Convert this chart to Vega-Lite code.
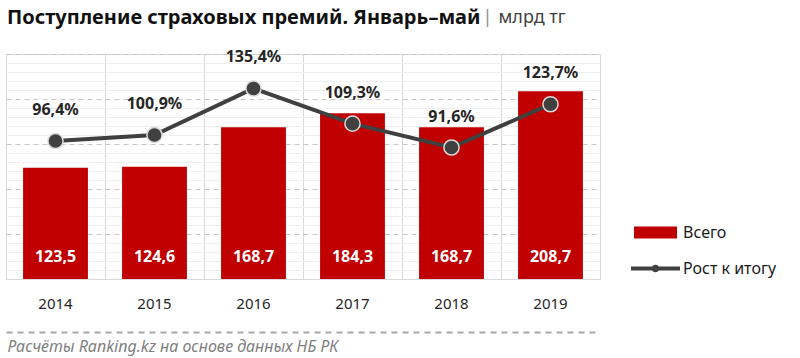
{
  "$schema": "https://vega.github.io/schema/vega-lite/v6.json",
  "width": 594,
  "height": 225,
  "autosize": {"type": "none"},
  "padding": {"left": 6, "top": 54, "right": 200, "bottom": 79},
  "background": "white",
  "config": {
    "locale": {"number": {"decimal": ",", "thousands": " ", "grouping": [3], "currency": ["", ""]}},
    "view": {"stroke": "#d9d9d9"},
    "font": "Noto Sans"
  },
  "title": {
    "text": "Поступление страховых премий. Январь–май",
    "anchor": "start",
    "frame": "group",
    "font": "Noto Sans",
    "fontSize": 20,
    "fontWeight": "bold",
    "color": "#111111",
    "offset": -20,
    "dx": 1
  },
  "data": {
    "values": [
      {"year": "2014", "total": 123.5, "growth": 0.964},
      {"year": "2015", "total": 124.6, "growth": 1.009},
      {"year": "2016", "total": 168.7, "growth": 1.354},
      {"year": "2017", "total": 184.3, "growth": 1.093},
      {"year": "2018", "total": 168.7, "growth": 0.916},
      {"year": "2019", "total": 208.7, "growth": 1.237}
    ]
  },
  "layer": [
    {
      "mark": {"type": "bar", "width": {"band": 0.655}},
      "encoding": {
        "x": {
          "field": "year", "type": "nominal",
          "scale": {"padding": 0},
          "axis": {
            "orient": "bottom", "title": null, "ticks": false,
            "labelAngle": 0, "labelFontSize": 15, "labelColor": "#262626", "labelPadding": 17,
            "labelFont": "Noto Sans",
            "domain": true, "domainColor": "#d9d9d9", "domainWidth": 1,
            "grid": true, "bandPosition": 0, "gridColor": "#d9d9d9", "gridWidth": 1
          }
        },
        "y": {
          "field": "total", "type": "quantitative",
          "scale": {"domain": [0, 250], "nice": false},
          "axis": {
            "orient": "left", "labels": false, "ticks": false, "domain": false,
            "values": [50, 100, 150, 200, 250],
            "grid": true, "gridDash": [5, 4], "gridColor": "#c6c6c6", "gridWidth": 1,
            "title": "|", "titleAngle": 0, "titleX": 476, "titleY": -37,
            "titleAlign": "left", "titleBaseline": "middle",
            "titleColor": "#8c8c8c", "titleFontWeight": "normal", "titleFontSize": 18, "titleFont": "Noto Sans"
          }
        },
        "color": {
          "datum": "Всего",
          "scale": {"domain": ["Всего", "Рост к итогу"], "range": ["#c00000", "#404040"]},
          "legend": {
            "orient": "none", "legendX": 639.5, "legendY": 168.5,
            "title": null, "padding": 0,
            "symbolSize": 400, "labelOffset": 17.5, "rowPadding": 18,
            "labelFontSize": 16, "labelColor": "#1a1a1a", "labelFont": "Noto Sans", "labelBaseline": "middle",
            "encode": {
              "symbols": {
                "update": {
                  "shape": {"signal": "datum.value === 'Всего' ? 'M-2.15,-0.6H2.15V0.6H-2.15Z' : 'M-2.45,-0.2H2.45V0.2H-2.45Z M0.38,0A0.38,0.38 0 1,1 -0.38,0A0.38,0.38 0 1,1 0.38,0Z'"},
                  "fill": {"signal": "datum.value === 'Всего' ? '#c00000' : '#404040'"},
                  "stroke": {"value": "transparent"},
                  "strokeWidth": {"value": 0},
                  "opacity": {"value": 1},
                  "fillOpacity": {"value": 1}
                }
              }
            }
          }
        }
      }
    },
    {
      "mark": {"type": "text", "color": "white", "fontWeight": "bold", "fontSize": 16, "dy": -22, "baseline": "middle", "font": "Noto Sans"},
      "encoding": {
        "x": {"field": "year", "type": "nominal", "axis": null},
        "y": {
          "datum": 0, "type": "quantitative",
          "scale": {"domain": [0, 250], "nice": false},
          "axis": {
            "orient": "right", "labels": false, "ticks": false, "domain": false,
            "values": [10, 20, 30, 40, 60, 70, 80, 90, 110, 120, 130, 140, 160, 170, 180, 190, 210, 220, 230, 240],
            "grid": true, "gridColor": "#efefef", "gridWidth": 1,
            "title": "млрд тг", "titleAngle": 0, "titleX": -102, "titleY": -37,
            "titleAlign": "left", "titleBaseline": "middle",
            "titleColor": "#404040", "titleFontWeight": "normal", "titleFontSize": 18, "titleFont": "Noto Sans"
          }
        },
        "text": {"field": "total", "type": "quantitative", "format": ".1f"}
      }
    },
    {
      "encoding": {
        "x": {
          "field": "year", "type": "nominal",
          "axis": {
            "orient": "bottom", "offset": 53, "labels": false, "ticks": false, "grid": false,
            "domain": true, "domainDash": [6, 5], "domainColor": "#a6a6a6", "domainWidth": 2,
            "title": "Расчёты Ranking.kz на основе данных НБ РК",
            "titleFont": "Noto Sans", "titleFontStyle": "italic", "titleFontWeight": "normal",
            "titleColor": "#7f7f7f", "titleFontSize": 16,
            "titleAnchor": "start", "titleAlign": "left", "titleX": 1, "titleY": 14, "titleBaseline": "middle",
            "encode": {"domain": {"update": {"x": {"value": -1}, "x2": {"value": 789}}}}
          }
        },
        "y": {
          "field": "growth", "type": "quantitative",
          "scale": {"domain": [-0.06, 1.61], "nice": false, "zero": false},
          "axis": null
        }
      },
      "layer": [
        {
          "mark": {"type": "line", "strokeWidth": 4},
          "encoding": {"color": {"datum": "Рост к итогу"}}
        },
        {
          "mark": {"type": "point", "filled": true, "size": 230, "fill": "#404040", "stroke": "#d9d9d9", "strokeWidth": 1.5, "opacity": 1}
        },
        {
          "mark": {"type": "text", "dy": -31, "baseline": "middle", "fontWeight": "bold", "fontSize": 16, "color": "#262626", "font": "Noto Sans"},
          "encoding": {"text": {"field": "growth", "type": "quantitative", "format": ".1%"}}
        }
      ]
    }
  ],
  "resolve": {"scale": {"y": "independent"}, "axis": {"x": "independent"}}
}
